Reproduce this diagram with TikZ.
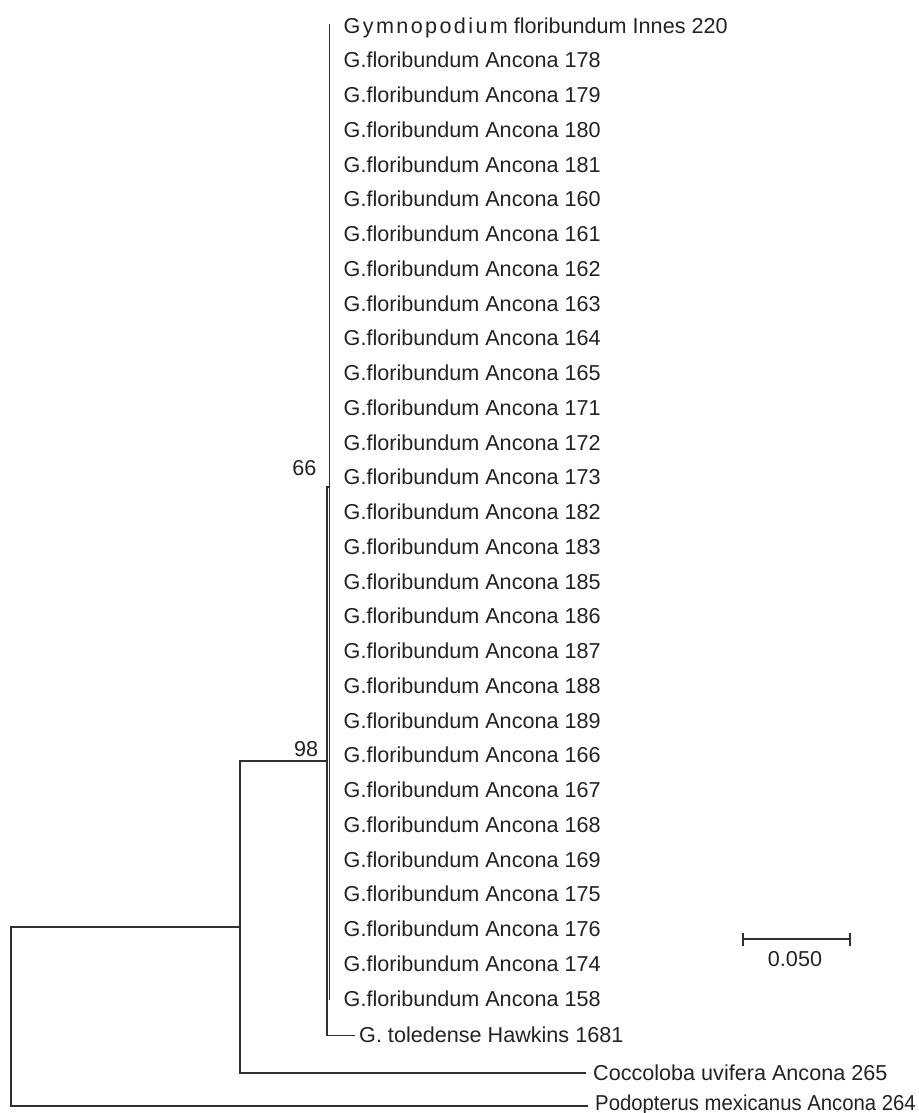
\documentclass[tikz,border=0pt]{standalone}
\usepackage{fontspec}
\setmainfont{Liberation Sans}
\newfontfamily\spacedfont[LetterSpace=11]{Liberation Sans}
\definecolor{ink}{HTML}{222222}
\definecolor{branch}{HTML}{303030}
\begin{document}
\begin{tikzpicture}[x=1pt,y=-1pt,
  lbl/.style={anchor=base west, inner sep=0pt, text=ink, font=\fontsize{21.6}{24}\selectfont},
  support/.style={anchor=base east, inner sep=0pt, text=ink, font=\fontsize{21.6}{24}\selectfont},
  br/.style={draw=branch, line width=1.7pt, line cap=rect}]
\useasboundingbox (0,0) rectangle (918,1113);

% first leaf
\coordinate (t0) at (329.5,24.5);
\node[lbl] (leaf0) at (343.5,33.2) {{\spacedfont Gymnopodium} floribundum Innes 220};

% G. floribundum leaves
\foreach \n [count=\i] in {178,179,180,181,160,161,162,163,164,165,171,172,173,182,183,185,186,187,188,189,166,167,168,169,175,176,174,158}{
  \pgfmathsetmacro\yy{25.8+34.75*\i}
  \coordinate (t\i) at (329.5,\yy);
  \node[lbl] (leaf\i) at (343.5,\yy+7.4) {G.floribundum Ancona \n};
}

% internal nodes
\coordinate (n66) at (329.5,487);
\coordinate (n98top) at (327,487);
\coordinate (n98) at (327,761);
\coordinate (n98bot) at (327,1035.5);
\coordinate (tol) at (354,1035.5);
\coordinate (nAtop) at (240,761);
\coordinate (nA) at (240,926.7);
\coordinate (nAbot) at (240,1072.7);
\coordinate (coc) at (585,1072.7);
\coordinate (root) at (11,926.7);
\coordinate (rootbot) at (11,1106);
\coordinate (pod) at (587,1106);

% other leaves
\node[lbl] (toled) at (359,1042.9) {G. toledense Hawkins 1681};
\node[lbl] (cocl) at (593,1080.1) {Coccoloba uvifera Ancona 265};
\node[lbl] (podl) at (595,1110) {\scalebox{0.94}[1]{Podopterus mexicanus Ancona 264}};

% branches
\draw[br] (t0) -- (t28);
\draw[br] (n66) -- (n98top) -- (n98bot) -- (tol);
\draw[br] (nAtop) -- (n98);
\draw[br] (nAtop) -- (nAbot) -- (coc);
\draw[br] (root) -- (nA);
\draw[br] (root) -- (rootbot) -- (pod);

% support values
\node[support] (s66) at (316.7,475) {66};
\node[support] (s98) at (318.3,756.7) {98};

% scale bar
\coordinate (sbL) at (743.3,939.3);
\coordinate (sbR) at (850,939.3);
\draw[br, line cap=butt] (sbL) -- (sbR);
\draw[br, line cap=butt] ([yshift=-6.7pt]sbL) -- ([yshift=6.7pt]sbL);
\draw[br, line cap=butt] ([yshift=-6.7pt]sbR) -- ([yshift=6.7pt]sbR);
\node[anchor=base, inner sep=0pt, text=ink, font=\fontsize{21.6}{24}\selectfont] (sblab) at (795,966.7) {0.050};
\end{tikzpicture}
\end{document}
